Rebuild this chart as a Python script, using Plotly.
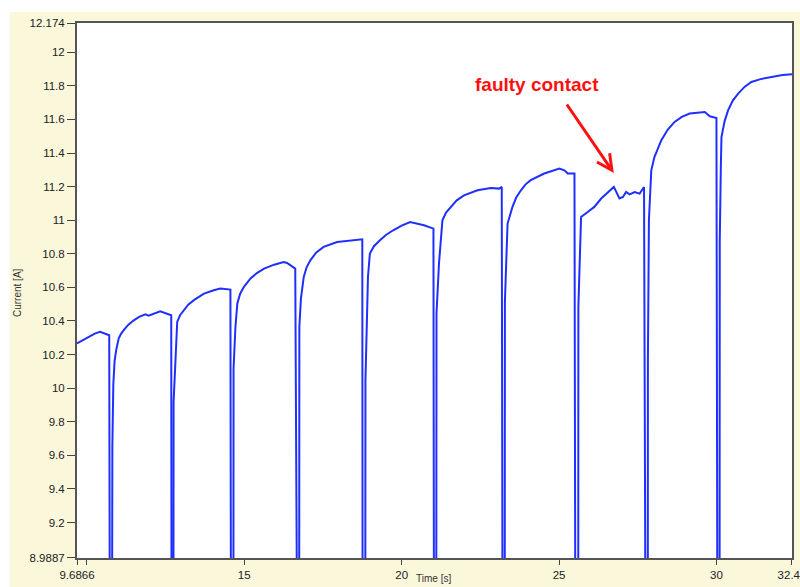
import plotly.graph_objects as go

# Time [s] and Current [A] (8.5 = below axis during dropouts)
time_s = [
    9.687, 10.0, 10.25, 10.42, 10.57, 10.71,
    10.73, 10.80,
    10.81, 10.84, 10.88, 10.93, 11.01, 11.08, 11.17, 11.32, 11.49, 11.66, 11.86, 11.96, 12.33, 12.55, 12.68,
    12.69, 12.75,
    12.755, 12.81, 12.87, 12.96, 13.08, 13.22, 13.40, 13.72, 14.03, 14.24, 14.56,
    14.578, 14.655,
    14.66, 14.72, 14.78, 14.87, 14.99, 15.20, 15.40, 15.63, 15.95, 16.25, 16.36, 16.62,
    16.68, 16.745,
    16.75, 16.80, 16.89, 16.98, 17.10, 17.28, 17.52, 17.95, 18.37, 18.75,
    18.76, 18.845,
    18.85, 18.90, 18.93, 18.99, 19.12, 19.31, 19.50, 19.73, 20.00, 20.27, 20.71, 21.01,
    21.027, 21.10,
    21.107, 21.186, 21.295, 21.41, 21.56, 21.75, 21.98, 22.41, 22.83, 23.10, 23.18,
    23.206, 23.275,
    23.28, 23.343, 23.365, 23.52, 23.64, 23.79, 23.93, 24.10, 24.53, 25.01, 25.17, 25.28, 25.49,
    25.518, 25.61,
    25.614, 25.667, 25.70, 25.91, 26.12, 26.34, 26.55, 26.74, 26.92, 27.03, 27.13, 27.24, 27.40, 27.56, 27.70,
    27.747, 27.82,
    27.823, 27.855, 27.93, 28.03, 28.25, 28.45, 28.67, 28.90, 29.15, 29.63, 29.79, 30.00,
    30.031, 30.10,
    30.105, 30.14, 30.16, 30.26, 30.37, 30.52, 30.69, 30.90, 31.11, 31.40, 31.76, 32.10, 32.40,
]
current_a = [
    10.266, 10.301, 10.325, 10.335, 10.326, 10.315,
    8.5, 8.5,
    9.655, 10.02, 10.16, 10.225, 10.295, 10.322, 10.345, 10.378, 10.404, 10.424, 10.44, 10.432, 10.458, 10.444, 10.434,
    8.5, 8.5,
    9.918, 10.196, 10.394, 10.434, 10.464, 10.497, 10.524, 10.563, 10.583, 10.593, 10.587,
    8.5, 8.5,
    10.117, 10.364, 10.504, 10.562, 10.603, 10.653, 10.685, 10.712, 10.735, 10.751, 10.745, 10.712,
    8.5, 8.5,
    10.364, 10.533, 10.662, 10.719, 10.761, 10.806, 10.841, 10.870, 10.880, 10.886,
    8.5, 8.5,
    10.047, 10.504, 10.662, 10.801, 10.845, 10.880, 10.912, 10.940, 10.968, 10.989, 10.970, 10.950,
    8.5, 8.5,
    10.444, 10.742, 10.999, 11.045, 11.079, 11.118, 11.148, 11.178, 11.192, 11.188, 11.198,
    8.5, 8.5,
    10.513, 10.863, 10.980, 11.079, 11.135, 11.178, 11.212, 11.238, 11.278, 11.307, 11.297, 11.278, 11.278,
    8.5, 8.5,
    10.484, 10.90, 11.019, 11.049, 11.079, 11.129, 11.168, 11.198, 11.129, 11.138, 11.168, 11.154, 11.168, 11.158, 11.198,
    8.5, 8.5,
    10.166, 11.0, 11.297, 11.376, 11.476, 11.538, 11.585, 11.615, 11.635, 11.644, 11.619, 11.609,
    8.5, 8.5,
    10.87, 11.317, 11.495, 11.590, 11.654, 11.712, 11.754, 11.795, 11.823, 11.840, 11.853, 11.864, 11.869,
]

x_tick_vals = [9.6866, 10, 15, 20, 25, 30, 32.40]
x_tick_text = ["9.6866", "", "15", "20", "25", "30", "32.40"]
y_tick_vals = [8.9887, 9.2, 9.4, 9.6, 9.8, 10, 10.2, 10.4, 10.6, 10.8, 11, 11.2, 11.4, 11.6, 11.8, 12, 12.174]
y_tick_text = ["8.9887", "9.2", "9.4", "9.6", "9.8", "10", "10.2", "10.4", "10.6", "10.8",
               "11", "11.2", "11.4", "11.6", "11.8", "12", "12.174"]

x_range = [9.6866, 32.4005]
y_range = [8.9886, 12.1741]

annot_text = "faulty contact"
arrow_tip_t = 26.74
arrow_tip_a = 11.281

fig = go.Figure()
fig.add_trace(go.Scatter(
    x=time_s, y=current_a, mode="lines",
    line=dict(color="#1f2fff", width=2),
    showlegend=False, hoverinfo="skip",
))

W, H = 800, 587
ml, mr, mt, mb = 77, 8, 23, 29
pw, ph = W - ml - mr, H - mt - mb

def px_x(px):
    return (px - ml) / pw

def px_y(py):
    return (H - mb - py) / ph

axis_font = dict(family="Arial, Liberation Sans, sans-serif", size=11.5, color="#222222")

fig.update_layout(
    width=W, height=H,
    margin=dict(l=ml, r=mr, t=mt, b=mb, autoexpand=False),
    paper_bgcolor="#FBF7DB",
    plot_bgcolor="#FFFFFF",
    xaxis=dict(
        range=x_range, tickmode="array", tickvals=x_tick_vals, ticktext=x_tick_text,
        automargin=False, ticklabeloverflow="allow",
        showgrid=False, zeroline=False, showline=True, linecolor="#555555", linewidth=2,
        mirror=True, ticks="outside", ticklen=5, tickcolor="#444444", tickwidth=1,
        tickfont=axis_font,
    ),
    yaxis=dict(
        range=y_range, tickmode="array", tickvals=y_tick_vals, ticktext=y_tick_text,
        automargin=False, ticklabeloverflow="allow",
        showgrid=False, zeroline=False, showline=True, linecolor="#555555", linewidth=2,
        mirror=True, ticks="outside", ticklen=8, tickcolor="#444444", tickwidth=1,
        tickfont=axis_font,
    ),
    shapes=[
        dict(type="rect", xref="paper", yref="paper", x0=px_x(-5), x1=px_x(805),
             y0=px_y(12), y1=px_y(-5), fillcolor="#FFFFFF", line=dict(width=0), layer="below"),
        dict(type="rect", xref="paper", yref="paper", x0=px_x(-5), x1=px_x(10),
             y0=px_y(592), y1=px_y(-5), fillcolor="#FFFFFF", line=dict(width=0), layer="below"),
    ],
    annotations=[
        dict(text="Current [A]", xref="paper", yref="paper", x=px_x(17), y=px_y(293),
             textangle=-90, showarrow=False, xanchor="center", yanchor="middle",
             font=dict(family="Arial, Liberation Sans, sans-serif", size=10, color="#333333")),
        dict(text="Time [s]", xref="paper", yref="paper", x=px_x(433), y=px_y(586),
             showarrow=False, xanchor="center", yanchor="bottom",
             font=dict(family="Arial, Liberation Sans, sans-serif", size=10, color="#333333")),
        dict(text="<b>" + annot_text + "</b>", xref="paper", yref="paper", x=px_x(537), y=px_y(85),
             showarrow=False, xanchor="center", yanchor="middle",
             font=dict(family="Arial, Liberation Sans, sans-serif", size=19, color="#FF1010")),
        dict(text="", x=arrow_tip_t, y=arrow_tip_a, xref="x", yref="y",
             showarrow=True, ax=-48, ay=-70, arrowhead=5, arrowsize=1.0, arrowwidth=3,
             arrowcolor="#FF1010"),
    ],
)

fig.write_html(
    "out.html",
    config={"displayModeBar": False},
    post_script="document.body.style.margin='0';document.body.style.padding='0';"
                "document.body.style.overflow='hidden';",
)
